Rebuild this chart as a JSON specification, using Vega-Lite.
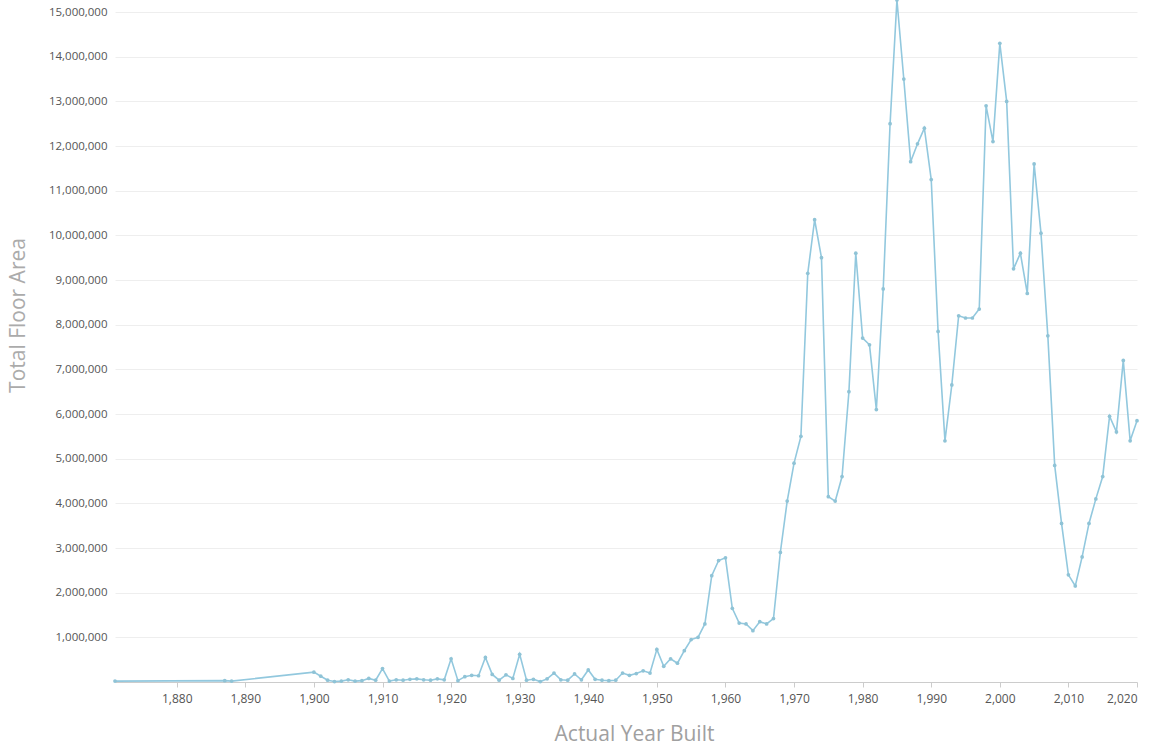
{
  "$schema": "https://vega.github.io/schema/vega-lite/v6.json",
  "width": 1022,
  "height": 682,
  "autosize": {"type": "none"},
  "padding": {"left": 115, "top": 0, "right": 17, "bottom": 66},
  "background": "white",
  "config": {"view": {"stroke": null}, "font": "Open Sans"},
  "data": {"values": [
    {"year": 1871, "area": 20000},
    {"year": 1887, "area": 30000},
    {"year": 1888, "area": 20000},
    {"year": 1900, "area": 220000},
    {"year": 1901, "area": 130000},
    {"year": 1902, "area": 40000},
    {"year": 1903, "area": 10000},
    {"year": 1904, "area": 20000},
    {"year": 1905, "area": 50000},
    {"year": 1906, "area": 20000},
    {"year": 1907, "area": 30000},
    {"year": 1908, "area": 80000},
    {"year": 1909, "area": 40000},
    {"year": 1910, "area": 300000},
    {"year": 1911, "area": 20000},
    {"year": 1912, "area": 50000},
    {"year": 1913, "area": 40000},
    {"year": 1914, "area": 60000},
    {"year": 1915, "area": 70000},
    {"year": 1916, "area": 50000},
    {"year": 1917, "area": 40000},
    {"year": 1918, "area": 70000},
    {"year": 1919, "area": 50000},
    {"year": 1920, "area": 520000},
    {"year": 1921, "area": 30000},
    {"year": 1922, "area": 120000},
    {"year": 1923, "area": 150000},
    {"year": 1924, "area": 140000},
    {"year": 1925, "area": 550000},
    {"year": 1926, "area": 170000},
    {"year": 1927, "area": 40000},
    {"year": 1928, "area": 160000},
    {"year": 1929, "area": 80000},
    {"year": 1930, "area": 620000},
    {"year": 1931, "area": 40000},
    {"year": 1932, "area": 60000},
    {"year": 1933, "area": 10000},
    {"year": 1934, "area": 70000},
    {"year": 1935, "area": 200000},
    {"year": 1936, "area": 50000},
    {"year": 1937, "area": 40000},
    {"year": 1938, "area": 180000},
    {"year": 1939, "area": 50000},
    {"year": 1940, "area": 270000},
    {"year": 1941, "area": 60000},
    {"year": 1942, "area": 40000},
    {"year": 1943, "area": 30000},
    {"year": 1944, "area": 40000},
    {"year": 1945, "area": 200000},
    {"year": 1946, "area": 150000},
    {"year": 1947, "area": 190000},
    {"year": 1948, "area": 250000},
    {"year": 1949, "area": 200000},
    {"year": 1950, "area": 730000},
    {"year": 1951, "area": 350000},
    {"year": 1952, "area": 520000},
    {"year": 1953, "area": 420000},
    {"year": 1954, "area": 700000},
    {"year": 1955, "area": 950000},
    {"year": 1956, "area": 1000000},
    {"year": 1957, "area": 1300000},
    {"year": 1958, "area": 2380000},
    {"year": 1959, "area": 2720000},
    {"year": 1960, "area": 2780000},
    {"year": 1961, "area": 1650000},
    {"year": 1962, "area": 1320000},
    {"year": 1963, "area": 1300000},
    {"year": 1964, "area": 1150000},
    {"year": 1965, "area": 1350000},
    {"year": 1966, "area": 1300000},
    {"year": 1967, "area": 1420000},
    {"year": 1968, "area": 2900000},
    {"year": 1969, "area": 4050000},
    {"year": 1970, "area": 4900000},
    {"year": 1971, "area": 5500000},
    {"year": 1972, "area": 9150000},
    {"year": 1973, "area": 10350000},
    {"year": 1974, "area": 9500000},
    {"year": 1975, "area": 4150000},
    {"year": 1976, "area": 4050000},
    {"year": 1977, "area": 4600000},
    {"year": 1978, "area": 6500000},
    {"year": 1979, "area": 9600000},
    {"year": 1980, "area": 7700000},
    {"year": 1981, "area": 7550000},
    {"year": 1982, "area": 6100000},
    {"year": 1983, "area": 8800000},
    {"year": 1984, "area": 12500000},
    {"year": 1985, "area": 15270000},
    {"year": 1986, "area": 13500000},
    {"year": 1987, "area": 11650000},
    {"year": 1988, "area": 12050000},
    {"year": 1989, "area": 12400000},
    {"year": 1990, "area": 11250000},
    {"year": 1991, "area": 7850000},
    {"year": 1992, "area": 5400000},
    {"year": 1993, "area": 6650000},
    {"year": 1994, "area": 8200000},
    {"year": 1995, "area": 8150000},
    {"year": 1996, "area": 8150000},
    {"year": 1997, "area": 8350000},
    {"year": 1998, "area": 12900000},
    {"year": 1999, "area": 12100000},
    {"year": 2000, "area": 14300000},
    {"year": 2001, "area": 13000000},
    {"year": 2002, "area": 9250000},
    {"year": 2003, "area": 9600000},
    {"year": 2004, "area": 8700000},
    {"year": 2005, "area": 11600000},
    {"year": 2006, "area": 10050000},
    {"year": 2007, "area": 7750000},
    {"year": 2008, "area": 4850000},
    {"year": 2009, "area": 3550000},
    {"year": 2010, "area": 2400000},
    {"year": 2011, "area": 2150000},
    {"year": 2012, "area": 2800000},
    {"year": 2013, "area": 3550000},
    {"year": 2014, "area": 4100000},
    {"year": 2015, "area": 4600000},
    {"year": 2016, "area": 5950000},
    {"year": 2017, "area": 5600000},
    {"year": 2018, "area": 7200000},
    {"year": 2019, "area": 5400000},
    {"year": 2020, "area": 5850000}
  ]},
  "mark": {"type": "line", "color": "#92c8de", "strokeWidth": 1.6, "clip": false,
           "point": {"filled": true, "size": 14, "color": "#8fc3d6"}},
  "encoding": {
    "x": {
      "field": "year", "type": "quantitative",
      "scale": {"domain": [1871, 2020], "nice": false, "zero": false},
      "axis": {
        "title": "Actual Year Built",
        "titleFont": "Open Sans", "titleFontSize": 21, "titleFontWeight": "normal", "titleColor": "#a0a0a0",
        "titlePadding": 19, "titleX": 519,
        "values": [1880, 1890, 1900, 1910, 1920, 1930, 1940, 1950, 1960, 1970, 1980, 1990, 2000, 2010, 2020],
        "format": ",d",
        "labelFont": "Open Sans", "labelFontSize": 12, "labelColor": "#555555", "labelPadding": 6,
        "grid": false, "domainColor": "#cccccc", "tickColor": "#cccccc", "tickSize": 5
      }
    },
    "y": {
      "field": "area", "type": "quantitative",
      "scale": {"domain": [0, 15270000], "nice": false},
      "axis": {
        "title": "Total Floor Area",
        "titleFont": "Open Sans", "titleFontSize": 21, "titleFontWeight": "normal", "titleColor": "#ababab",
        "titlePadding": 20, "titleY": 315,
        "values": [1000000, 2000000, 3000000, 4000000, 5000000, 6000000, 7000000, 8000000, 9000000, 10000000, 11000000, 12000000, 13000000, 14000000, 15000000],
        "format": ",d",
        "labelFont": "Open Sans", "labelFontSize": 11.5, "labelColor": "#555555", "labelPadding": 8,
        "ticks": false, "domain": false,
        "grid": true, "gridColor": "#eeeeee", "gridWidth": 1
      }
    }
  }
}
